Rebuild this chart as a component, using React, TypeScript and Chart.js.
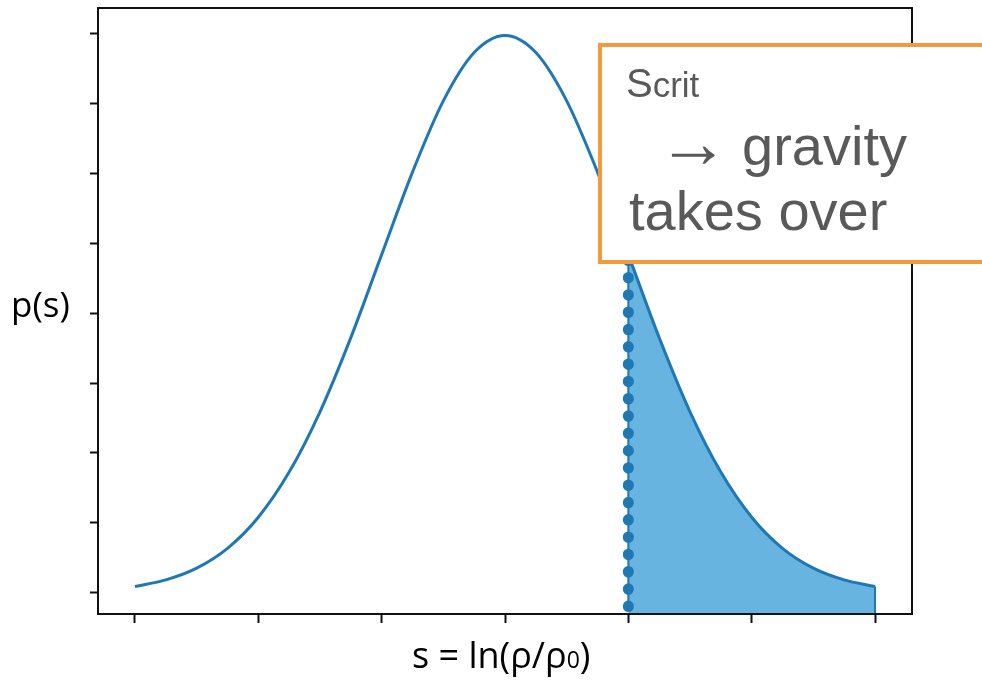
import { useEffect, useRef } from "react";
import { Chart, registerables } from "chart.js";

Chart.register(...registerables);

// Log-density s and its probability density p(s)
const sValues = [
  -3, -2.75, -2.5, -2.25, -2, -1.75, -1.5, -1.25, -1, -0.75, -0.5, -0.25, 0,
  0.25, 0.5, 0.75, 1, 1.25, 1.5, 1.75, 2, 2.25, 2.5, 2.75, 3,
];
const pValues = [
  0.0044, 0.0091, 0.0175, 0.0317, 0.054, 0.0863, 0.1295, 0.1826, 0.242, 0.3011,
  0.3521, 0.3867, 0.3989, 0.3867, 0.3521, 0.3011, 0.242, 0.1826, 0.1295, 0.0863,
  0.054, 0.0317, 0.0175, 0.0091, 0.0044,
];

// Critical log-density and the extent of its marker line
const sCrit = 1;
const critLineY = [-0.01, 0.242];

// Axis ticks (unlabelled) and ranges
const xTicks = [-3, -2, -1, 0, 1, 2, 3];
const yTicks = [0, 0.05, 0.1, 0.15, 0.2, 0.25, 0.3, 0.35, 0.4];
const xRange = [-3.3, 3.3];
const yRange = [-0.0153, 0.4186];

const BLUE = "#1f77b4";
const FILL = "#67b4e0";

const framePlugin = {
  id: "frame",
  afterDatasetsDraw(chart: any) {
    const { ctx, chartArea: a } = chart;
    ctx.save();
    ctx.strokeStyle = "#111";
    ctx.lineWidth = 2;
    ctx.strokeRect(a.left, a.top, a.right - a.left, a.bottom - a.top);
    ctx.restore();
  },
};

const labelsPlugin = {
  id: "labels",
  afterDraw(chart: any) {
    const ctx = chart.ctx as CanvasRenderingContext2D;
    ctx.save();

    // callout box
    ctx.fillStyle = "#ffffff";
    ctx.fillRect(600, 45, 420, 217);
    ctx.strokeStyle = "#f39a3b";
    ctx.lineWidth = 4;
    ctx.strokeRect(600, 45, 420, 217);

    ctx.fillStyle = "#595959";
    ctx.textBaseline = "alphabetic";
    ctx.textAlign = "left";
    const sans = '"Liberation Sans", Arial, Helvetica, sans-serif';
    ctx.font = `40px ${sans}`;
    ctx.fillText("S", 626, 97);
    const sw = ctx.measureText("S").width;
    ctx.font = `35px ${sans}`;
    ctx.fillText("crit", 626 + sw, 97);
    ctx.font = `72px ${sans}`;
    ctx.fillText("\u2192", 657, 167);
    ctx.font = `56px ${sans}`;
    ctx.fillText("gravity", 742, 165);
    ctx.fillText("takes over", 629, 230);

    // axis titles
    ctx.fillStyle = "#000";
    const axisFont = '"Open Sans", "Noto Sans", sans-serif';
    ctx.font = `35px ${axisFont}`;
    ctx.fillText("p(s)", 11, 317);

    let x = 412;
    const base = 668;
    ctx.font = `36px ${axisFont}`;
    const main = "s = ln(\u03c1/\u03c1";
    ctx.fillText(main, x, base);
    x += ctx.measureText(main).width;
    ctx.font = `23px ${axisFont}`;
    ctx.fillText("0", x, base);
    x += ctx.measureText("0").width;
    ctx.font = `36px ${axisFont}`;
    ctx.fillText(")", x, base);

    ctx.restore();
  },
};

export default function App() {
  const canvasRef = useRef<HTMLCanvasElement | null>(null);

  useEffect(() => {
    const canvas = canvasRef.current;
    if (!canvas) return;

    const curve = sValues.map((s, i) => ({ x: s, y: pValues[i] }));
    const tail = curve.filter((p) => p.x >= sCrit);
    const last = curve[curve.length - 1];
    const tailEdge = [
      { x: last.x, y: yRange[0] },
      { x: last.x, y: last.y },
    ];
    const critLine = critLineY.map((y) => ({ x: sCrit, y }));

    const chart = new Chart(canvas, {
      type: "line",
      data: {
        datasets: [
          {
            data: curve,
            borderColor: BLUE,
            borderWidth: 3,
            pointRadius: 0,
            cubicInterpolationMode: "monotone",
            fill: false,
            order: 1,
          },
          {
            data: critLine,
            borderColor: BLUE,
            borderWidth: 11,
            borderDash: [0.5, 16.8],
            borderCapStyle: "round",
            pointRadius: 0,
            fill: false,
            order: 2,
          },
          {
            data: critLine,
            borderColor: BLUE,
            borderWidth: 2,
            pointRadius: 0,
            fill: false,
            order: 3,
          },
          {
            data: tailEdge,
            borderColor: BLUE,
            borderWidth: 2,
            pointRadius: 0,
            fill: false,
            order: 4,
          },
          {
            data: tail,
            borderColor: "rgba(0,0,0,0)",
            borderWidth: 1,
            backgroundColor: FILL,
            pointRadius: 0,
            cubicInterpolationMode: "monotone",
            fill: "start",
            order: 5,
          },
        ],
      } as any,
      options: {
        responsive: false,
        animation: false,
        events: [],
        layout: { padding: { left: 0, right: 70, top: 8, bottom: 0 } },
        plugins: {
          legend: { display: false },
          tooltip: { enabled: false },
          title: { display: false },
        },
        scales: {
          x: {
            type: "linear",
            min: xRange[0],
            max: xRange[1],
            afterBuildTicks: (scale: any) => {
              scale.ticks = xTicks.map((v) => ({ value: v }));
            },
            afterFit: (scale: any) => {
              scale.height = 66;
            },
            ticks: { display: false },
            border: { display: false },
            grid: {
              drawOnChartArea: false,
              drawTicks: true,
              tickLength: 9,
              tickWidth: 2,
              tickColor: "#111",
            },
          },
          y: {
            type: "linear",
            min: yRange[0],
            max: yRange[1],
            afterBuildTicks: (scale: any) => {
              scale.ticks = yTicks.map((v) => ({ value: v }));
            },
            afterFit: (scale: any) => {
              scale.width = 98;
            },
            ticks: { display: false },
            border: { display: false },
            grid: {
              drawOnChartArea: false,
              drawTicks: true,
              tickLength: 8,
              tickWidth: 2,
              tickColor: "#111",
            },
          },
        },
      },
      plugins: [framePlugin, labelsPlugin],
    });

    return () => chart.destroy();
  }, []);

  return (
    <div
      style={{
        position: "absolute",
        left: 0,
        top: 0,
        width: 982,
        height: 680,
        background: "#fff",
      }}
    >
      <canvas ref={canvasRef} width={982} height={680} />
    </div>
  );
}
